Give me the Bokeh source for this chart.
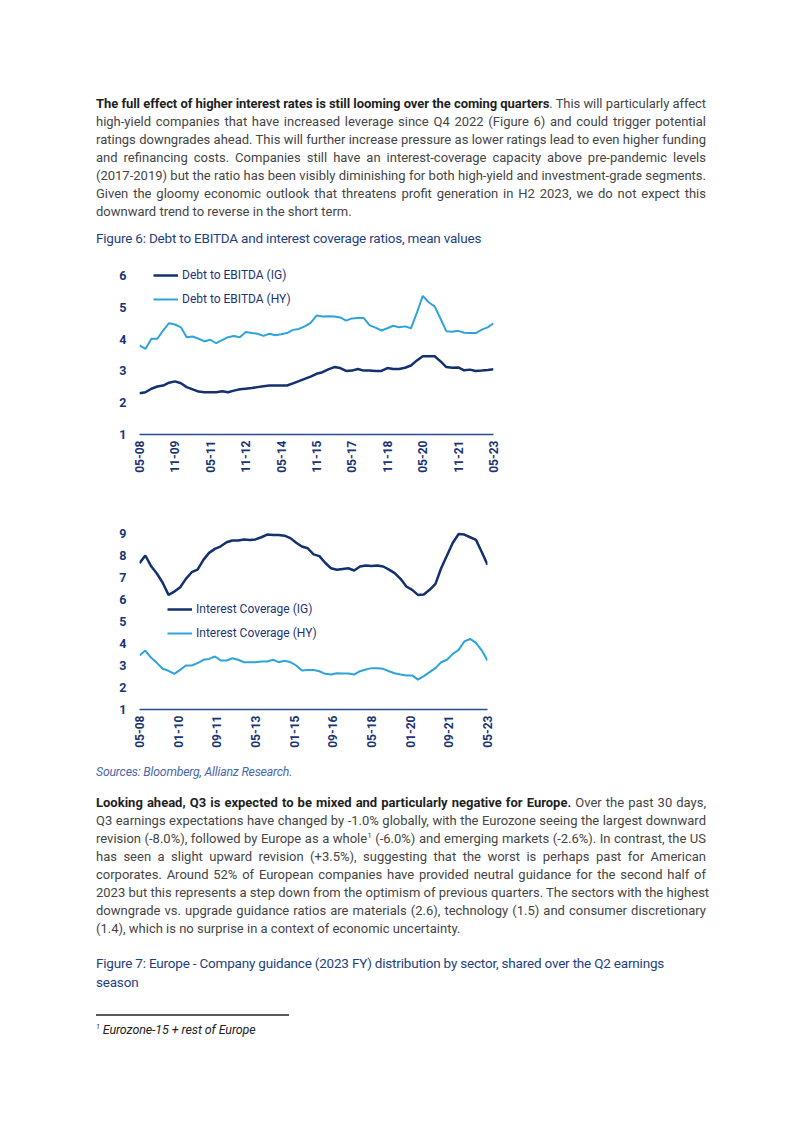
import math
import pandas as pd
from bokeh.plotting import figure
from bokeh.layouts import column
from bokeh.models import Div, Range1d, FixedTicker, DatetimeTickFormatter
from bokeh.embed import file_html
from bokeh.resources import INLINE

# ---------------- data ----------------
quarters = pd.date_range("2008-05-01", periods=61, freq="3MS")

debt_ebitda_ig = [2.30, 2.33, 2.44, 2.51, 2.54, 2.63, 2.67, 2.61, 2.49, 2.42,
                  2.35, 2.33, 2.33, 2.33, 2.36, 2.33, 2.38, 2.42, 2.44, 2.46,
                  2.49, 2.52, 2.54, 2.54, 2.54, 2.54, 2.61, 2.68, 2.75, 2.82,
                  2.91, 2.96, 3.05, 3.12, 3.09, 3.00, 3.01, 3.06, 3.01, 3.01,
                  3.00, 3.00, 3.09, 3.06, 3.06, 3.10, 3.17, 3.33, 3.46, 3.46,
                  3.46, 3.30, 3.12, 3.10, 3.11, 3.02, 3.04, 3.00, 3.01, 3.03,
                  3.05]
debt_ebitda_hy = [3.80, 3.69, 4.01, 4.01, 4.27, 4.50, 4.46, 4.37, 4.06, 4.08,
                  4.01, 3.93, 3.98, 3.87, 3.97, 4.06, 4.10, 4.06, 4.22, 4.19,
                  4.17, 4.10, 4.17, 4.12, 4.15, 4.19, 4.29, 4.32, 4.40, 4.51,
                  4.74, 4.71, 4.72, 4.71, 4.68, 4.58, 4.65, 4.66, 4.66, 4.43,
                  4.36, 4.27, 4.34, 4.42, 4.37, 4.40, 4.34, 4.83, 5.36, 5.16,
                  5.03, 4.64, 4.25, 4.23, 4.26, 4.20, 4.19, 4.19, 4.30, 4.37,
                  4.50]
int_cov_ig = [7.65, 8.00, 7.51, 7.17, 6.76, 6.21, 6.36, 6.56, 6.94, 7.24,
              7.36, 7.80, 8.12, 8.30, 8.42, 8.60, 8.68, 8.68, 8.73, 8.71,
              8.73, 8.83, 8.95, 8.93, 8.93, 8.90, 8.79, 8.58, 8.41, 8.33,
              8.05, 7.97, 7.67, 7.42, 7.35, 7.39, 7.42, 7.32, 7.50, 7.55,
              7.52, 7.55, 7.50, 7.36, 7.20, 6.94, 6.59, 6.44, 6.21, 6.23,
              6.44, 6.71, 7.42, 8.00, 8.58, 8.98, 8.95, 8.83, 8.71, 8.15,
              7.58]
int_cov_hy = [3.45, 3.68, 3.35, 3.11, 2.85, 2.76, 2.62, 2.80, 3.00, 3.00,
              3.11, 3.26, 3.30, 3.41, 3.23, 3.23, 3.33, 3.26, 3.15, 3.15,
              3.15, 3.18, 3.18, 3.26, 3.15, 3.22, 3.15, 3.00, 2.77, 2.80,
              2.80, 2.74, 2.62, 2.59, 2.65, 2.64, 2.64, 2.59, 2.74, 2.82,
              2.88, 2.88, 2.85, 2.74, 2.65, 2.59, 2.55, 2.55, 2.36, 2.52,
              2.70, 2.88, 3.15, 3.26, 3.53, 3.71, 4.09, 4.21, 4.03, 3.68,
              3.23]

ticks_chart1 = ["2008-05", "2009-11", "2011-05", "2012-11", "2014-05", "2015-11",
                "2017-05", "2018-11", "2020-05", "2021-11", "2023-05"]
ticks_chart2 = ["2008-05", "2010-01", "2011-09", "2013-05", "2015-01", "2016-09",
                "2018-05", "2020-01", "2021-09", "2023-05"]
yticks_chart1 = [1, 2, 3, 4, 5, 6]
yticks_chart2 = [1, 2, 3, 4, 5, 6, 7, 8, 9]

labels_chart1 = ["Debt to EBITDA (IG)", "Debt to EBITDA (HY)"]
labels_chart2 = ["Interest Coverage (IG)", "Interest Coverage (HY)"]

# ---------------- style ----------------
NAVY = "#14306f"
LIGHT = "#2ea4da"
TICK = "#1b3573"
AXIS = "#2a4a92"
BODY = "#454545"
BOLD = "#1f1f1f"
CAP = "#1f3f80"
SRC = "#4a68ab"
FONT = "Roboto"
LEFT = 139  # frame left edge (page px)


def ms(s):
    return pd.Timestamp(s).value / 1e6


def make_chart(width, height, top, bottom, y_end, yticks, xticks, ig, hy, labels,
               legend_loc, ig_width):
    p = figure(width=width, height=height, output_backend="svg", toolbar_location=None,
               x_axis_type="datetime",
               x_range=Range1d(ms(quarters[0]), ms(quarters[-1])),
               y_range=Range1d(1, y_end),
               min_border_left=LEFT, min_border_right=10,
               min_border_top=top, min_border_bottom=bottom,
               outline_line_color=None, background_fill_color="white",
               border_fill_color="white", margin=0)
    p.line(quarters, ig, line_color=NAVY, line_width=ig_width, legend_label=labels[0])
    p.line(quarters, hy, line_color=LIGHT, line_width=2, legend_label=labels[1])
    p.xgrid.visible = False
    p.ygrid.visible = False

    xa = p.xaxis[0]
    xa.ticker = FixedTicker(ticks=[ms(t) for t in xticks])
    fmt = "%m-%y"
    xa.formatter = DatetimeTickFormatter(
        microseconds=fmt, milliseconds=fmt, seconds=fmt, minsec=fmt, minutes=fmt,
        hourmin=fmt, hours=fmt, days=fmt, months=fmt, years=fmt,
        strip_leading_zeros=False)
    xa.major_label_orientation = math.pi / 2
    xa.axis_line_color = AXIS
    xa.axis_line_width = 1.5
    xa.major_tick_line_color = None
    xa.minor_tick_line_color = None
    xa.major_tick_out = 0
    xa.major_tick_in = 0
    xa.major_label_standoff = 6
    xa.major_label_text_font = FONT
    xa.major_label_text_font_size = "12px"
    xa.major_label_text_font_style = "bold"
    xa.major_label_text_color = TICK

    ya = p.yaxis[0]
    ya.ticker = FixedTicker(ticks=yticks)
    ya.axis_line_color = None
    ya.major_tick_line_color = None
    ya.minor_tick_line_color = None
    ya.major_tick_out = 0
    ya.major_tick_in = 0
    ya.major_label_standoff = 13
    ya.major_label_text_font = FONT
    ya.major_label_text_font_size = "12.5px"
    ya.major_label_text_font_style = "bold"
    ya.major_label_text_color = TICK

    lg = p.legend[0]
    lg.location = legend_loc
    lg.padding = 0
    lg.margin = 0
    lg.spacing = 4
    lg.glyph_width = 25
    lg.glyph_height = 20
    lg.label_height = 20
    lg.label_standoff = 4
    lg.label_text_font = FONT
    lg.label_text_font_size = "12px"
    lg.label_text_color = TICK
    lg.background_fill_alpha = 0
    lg.border_line_color = None
    return p


p1 = make_chart(LEFT + 354 + 10, 249, 5, 61, 6.755, yticks_chart1, ticks_chart1,
                debt_ebitda_ig, debt_ebitda_hy, labels_chart1, (14, 125), 2.5)
p2 = make_chart(LEFT + 348 + 10, 265, 30, 51, 9.364, yticks_chart2, ticks_chart2,
                int_cov_ig, int_cov_hy, labels_chart2, (28, 66), 2.5)

# ---------------- text ----------------
# approximate Roboto advance widths (units / 2048) used to fit justified lines
_W = {" ": 507, ",": 402, ".": 539, "-": 565, "(": 699, ")": 711, "%": 1498,
      "+": 1134, ":": 496, "A": 1336, "B": 1275, "C": 1333, "D": 1343, "E": 1164,
      "F": 1132, "G": 1395, "H": 1460, "I": 557, "L": 1102, "O": 1408, "Q": 1408,
      "S": 1216, "T": 1221, "U": 1328, "a": 1088, "b": 1122, "c": 1046, "d": 1128,
      "e": 1058, "f": 693, "g": 1120, "h": 1101, "i": 486, "j": 477, "k": 1012,
      "l": 486, "m": 1753, "n": 1103, "o": 1139, "p": 1122, "q": 1137, "r": 677,
      "s": 1031, "t": 654, "u": 1102, "v": 968, "w": 1502, "x": 991, "y": 946,
      "z": 991}
SIZE = 13.0
TEXT_W = 610


def seg_width(text, bold):
    w = sum(_W.get(ch, 1150) for ch in text) / 2048.0 * SIZE
    return w * (1.04 if bold else 1.0)


def render_line(top, segs, justify=True):
    nat = 0.0
    nchar = 0
    html = ""
    for text, kind in segs:
        if kind == "sup":
            nat += 0.6 * SIZE * 0.62
            html += ('<sup style="font-size:8px;line-height:0;vertical-align:5px;">'
                     f'{text}</sup>')
            continue
        nat += seg_width(text, kind == "b")
        nchar += len(text)
        if kind == "b":
            html += f'<span style="font-weight:bold;color:{BOLD};">{text}</span>'
        else:
            html += text
    ls = 0.0
    if justify and nat > TEXT_W - 6:
        ls = (TEXT_W - 6 - nat) / nchar
    last = "justify" if justify else "left"
    return (f'<div style="position:absolute;left:96px;top:{top}px;width:{TEXT_W}px;height:18px;'
            f'line-height:18px;white-space:nowrap;text-align:justify;text-align-last:{last};'
            f'font-family:{FONT};font-size:{SIZE}px;letter-spacing:{ls:.3f}px;color:{BODY};">'
            f'{html}</div>')


def cap(top, html):
    return (f'<div style="position:absolute;left:96px;top:{top}px;height:18px;'
            f'line-height:18px;white-space:nowrap;font-family:{FONT};font-size:13.5px;'
            f'letter-spacing:-0.2px;color:{CAP};">{html}</div>')


para1 = [
    [("The full effect of higher interest rates is still looming over the coming quarters", "b"),
     (". This will particularly affect", "r")],
    [("high-yield companies that have increased leverage since Q4 2022 (Figure 6) and could trigger potential", "r")],
    [("ratings downgrades ahead. This will further increase pressure as lower ratings lead to even higher funding", "r")],
    [("and refinancing costs. Companies still have an interest-coverage capacity above pre-pandemic levels", "r")],
    [("(2017-2019) but the ratio has been visibly diminishing for both high-yield and investment-grade segments.", "r")],
    [("Given the gloomy economic outlook that threatens profit generation in H2 2023, we do not expect this", "r")],
    [("downward trend to reverse in the short term.", "r")],
]
para2 = [
    [("Looking ahead, Q3 is expected to be mixed and particularly negative for Europe.", "b"),
     (" Over the past 30 days,", "r")],
    [("Q3 earnings expectations have changed by -1.0% globally, with the Eurozone seeing the largest downward", "r")],
    [("revision (-8.0%), followed by Europe as a whole", "r"), ("1", "sup"),
     (" (-6.0%) and emerging markets (-2.6%). In contrast, the US", "r")],
    [("has seen a slight upward revision (+3.5%), suggesting that the worst is perhaps past for American", "r")],
    [("corporates. Around 52% of European companies have provided neutral guidance for the second half of", "r")],
    [("2023 but this represents a step down from the optimism of previous quarters. The sectors with the highest", "r")],
    [("downgrade vs. upgrade guidance ratios are materials (2.6), technology (1.5) and consumer discretionary", "r")],
    [("(1.4), which is no surprise in a context of economic uncertainty.", "r")],
]
caption6 = "Figure 6: Debt to EBITDA and interest coverage ratios, mean values"
caption7 = ["Figure 7: Europe - Company guidance (2023 FY) distribution by sector, shared over the Q2 earnings",
            "season"]
sources = "Sources: Bloomberg, Allianz Research."
footnote = "Eurozone-15 + rest of Europe"

top_html = '<div style="position:relative;width:794px;height:246px;">'
for i, segs in enumerate(para1):
    top_html += render_line(95 + 18 * i, segs, justify=(i < len(para1) - 1))
top_html += cap(229, caption6)
top_html += "</div>"

bot_html = '<div style="position:relative;width:794px;height:365px;">'
bot_html += (f'<div style="position:absolute;left:96px;top:4px;height:16px;line-height:16px;'
             f'white-space:nowrap;font-family:{FONT};font-size:12.3px;font-style:italic;'
             f'letter-spacing:-0.2px;color:{SRC};">{sources}</div>')
for i, segs in enumerate(para2):
    bot_html += render_line(34 + 18 * i, segs, justify=(i < len(para2) - 1))
bot_html += cap(194, caption7[0])
bot_html += cap(213, caption7[1])
bot_html += ('<div style="position:absolute;left:96px;top:254px;width:193px;height:1.5px;'
             'background:#5a5a5a;"></div>')
bot_html += (f'<div style="position:absolute;left:96px;top:262px;height:16px;line-height:16px;'
             f'white-space:nowrap;font-family:{FONT};font-size:12.5px;font-style:italic;'
             f'letter-spacing:-0.1px;color:#222222;">'
             f'<sup style="font-size:7px;line-height:0;vertical-align:5px;">1</sup> {footnote}</div>')
bot_html += "</div>"

top_div = Div(text=top_html, width=794, height=246, margin=0)
bot_div = Div(text=bot_html, width=794, height=365, margin=0)

layout = column(top_div, p1, p2, bot_div, spacing=0, margin=0)

open("out.html", "w").write(file_html(layout, INLINE))
